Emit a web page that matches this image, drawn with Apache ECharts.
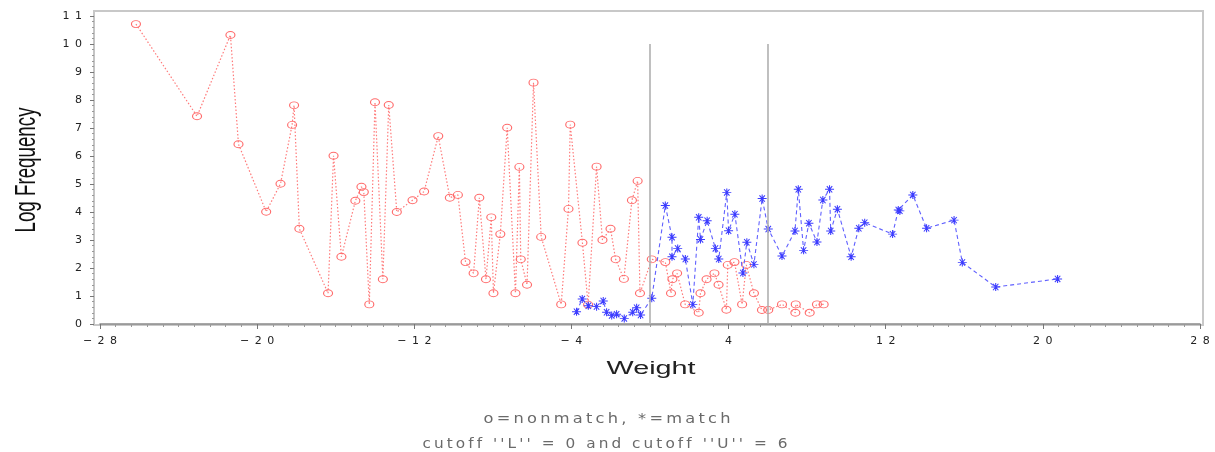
<!DOCTYPE html>
<html>
<head>
<meta charset="utf-8">
<script src="https://cdn.jsdelivr.net/npm/echarts@6/dist/echarts.min.js"></script>
<style>html,body{margin:0;padding:0;background:#fff}#c{width:1215px;height:452px}</style>
</head>
<body>
<div id="c"></div>
<script>
// ---- data ----
const nonmatchX = [-26.17,-23.06,-21.36,-20.95,-19.54,-18.81,-18.22,-18.12,-17.85,-16.39,-16.11,-15.71,-15.00,-14.69,-14.57,-14.29,-14.00,-13.60,-13.30,-12.89,-12.09,-11.50,-10.78,-10.19,-9.78,-9.39,-8.98,-8.69,-8.35,-8.08,-7.97,-7.62,-7.27,-6.85,-6.65,-6.58,-6.26,-5.93,-5.54,-4.52,-4.15,-4.06,-3.44,-3.15,-2.72,-2.42,-2.01,-1.75,-1.33,-0.92,-0.63,-0.51,0.09,0.78,1.07,1.14,1.38,1.79,2.48,2.57,2.88,3.28,3.49,3.89,3.96,4.30,4.69,4.90,5.29,5.70,6.02,6.72,7.40,7.42,8.13,8.50,8.84];
const nonmatchY = [10.71,7.42,10.32,6.42,4.01,5.01,7.11,7.81,3.40,1.10,6.01,2.40,4.40,4.90,4.71,0.70,7.92,1.60,7.82,4.00,4.42,4.73,6.71,4.51,4.61,2.21,1.81,4.51,1.60,3.81,1.10,3.21,7.01,1.10,5.61,2.31,1.40,8.62,3.11,0.70,4.11,7.12,2.90,0.69,5.62,3.00,3.40,2.31,1.61,4.42,5.11,1.10,2.31,2.21,1.10,1.60,1.81,0.70,0.40,1.10,1.60,1.81,1.40,0.51,2.11,2.21,0.70,2.11,1.10,0.50,0.50,0.70,0.40,0.70,0.40,0.70,0.70];
const matchX = [-3.74,-3.45,-3.14,-2.72,-2.38,-2.21,-1.95,-1.70,-1.31,-0.88,-0.68,-0.48,0.09,0.78,1.12,1.12,1.41,1.80,2.18,2.48,2.57,2.91,3.33,3.50,3.91,4.00,4.32,4.73,4.93,5.29,5.71,6.02,6.72,7.38,7.55,7.82,8.09,8.50,8.80,9.14,9.20,9.54,10.24,10.63,10.93,12.35,12.64,12.72,13.38,14.08,15.48,15.90,17.60,20.75];
const matchY = [0.44,0.89,0.65,0.62,0.82,0.42,0.30,0.35,0.20,0.42,0.58,0.32,0.92,4.23,3.10,2.40,2.70,2.32,0.70,3.81,3.02,3.69,2.70,2.32,4.70,3.33,3.92,1.82,2.92,2.13,4.48,3.39,2.43,3.32,4.81,2.63,3.60,2.93,4.43,4.81,3.32,4.10,2.40,3.42,3.62,3.21,4.07,4.04,4.61,3.42,3.71,2.20,1.32,1.61];
const cutoffs = [0, 6];
const cutoffTop = 10;
const xAxisName = 'Weight';
const yAxisName = 'Log Frequency';
const noteLines = ['o=nonmatch, *=match', "cutoff ''L'' = 0 and cutoff ''U'' = 6"];

// ---- helpers ----
const mctx = document.createElement('canvas').getContext('2d');
function measure(text, font){ mctx.font = font; return mctx.measureText(text).width; }
function spaced(s, sep){ return Array.from(s).join(sep); }
function tickFmt(v){ return spaced(String(v).replace('-', '\u2212'), '\u2002'); }
function zip(xs, ys){ return xs.map((x,i)=>[x, ys[i]]); }

const starPath = 'path://M0,5L10,5M2,1L8,9M8,1L2,9M5,0L5,10';

const fontY = '30px "Liberation Sans"';
const fontX = '18px "Liberation Sans"';
const fontN = '14px "DejaVu Sans"';
const note0 = spaced(noteLines[0], '\u2009');
const note1 = spaced(noteLines[1], '\u2009');

function textEl(text, font, x, y, width, color, rot){
  return {type: 'text', x: x, y: y, rotation: rot || 0, scaleX: width/measure(text, font), silent: true,
    style: {text: text, font: font, fill: color, align: 'center', verticalAlign: 'middle', textAlign: 'center', textVerticalAlign: 'middle'}};
}

const chart = echarts.init(document.getElementById('c'), null, {renderer:'canvas'});
chart.setOption({
  animation: false,
  backgroundColor: '#fff',
  grid: {left: 100, right: 15, top: 16, bottom: 128, containLabel: false},
  xAxis: {
    type: 'value', min: -28, max: 28, interval: 8,
    axisLine: {show: true, onZero: false, lineStyle: {color: '#8a8a8a', width: 1.5}},
    axisTick: {show: true, length: 5, lineStyle: {color: '#777'}},
    minorTick: {show: true, splitNumber: 10, length: 3, lineStyle: {color: '#999'}},
    splitLine: {show: false},
    axisLabel: {margin: 12, fontSize: 11, color: '#222', fontFamily: 'DejaVu Sans', formatter: tickFmt}
  },
  yAxis: {
    type: 'value', min: 0, max: 11, interval: 1, offset: 6,
    axisLine: {show: true, onZero: false, lineStyle: {color: '#c4c4c4', width: 2}},
    axisTick: {show: true, length: 4, lineStyle: {color: '#777'}},
    minorTick: {show: true, splitNumber: 5, length: 2, lineStyle: {color: '#999'}},
    splitLine: {show: false},
    axisLabel: {margin: 12, fontSize: 11, color: '#222', fontFamily: 'DejaVu Sans', formatter: tickFmt}
  },
  graphic: [
    {type: 'rect', silent: true, z: -1, shape: {x: 94, y: 11, width: 1109, height: 314},
     style: {fill: 'none', stroke: '#c8c8c8', lineWidth: 2}},
    textEl(yAxisName, fontY, 27, 170, 125, '#111', Math.PI/2),
    textEl(xAxisName, fontX, 651, 369, 89, '#222'),
    textEl(note0, fontN, 607, 419, 247, '#6a6a6a'),
    textEl(note1, fontN, 605, 444, 365, '#6a6a6a')
  ],
  series: [
    {
      name: 'cutoffs', type: 'line', data: [], silent: true,
      markLine: {
        silent: true, symbol: ['none', 'none'], label: {show: false},
        lineStyle: {color: '#b0b0b0', width: 1.6, type: 'solid'},
        data: cutoffs.map(c => [{coord: [c, 0]}, {coord: [c, cutoffTop]}])
      },
      z: 1
    },
    {
      name: 'nonmatch', type: 'line', data: zip(nonmatchX, nonmatchY),
      symbol: 'circle', symbolSize: [9, 7], showAllSymbol: true,
      itemStyle: {color: 'rgba(255,255,255,0)', borderColor: '#ff6a6a', borderWidth: 1},
      lineStyle: {color: '#ff7a7a', width: 1.2, type: [1.5, 2]},
      z: 2
    },
    {
      name: 'match', type: 'line', data: zip(matchX, matchY),
      symbol: starPath, symbolSize: [9, 8], showAllSymbol: true,
      itemStyle: {color: '#3c3cff', borderColor: '#3c3cff', borderWidth: 1},
      lineStyle: {color: '#6060ff', width: 1.1, type: [4, 3]},
      z: 3
    }
  ]
});
</script>
</body>
</html>
